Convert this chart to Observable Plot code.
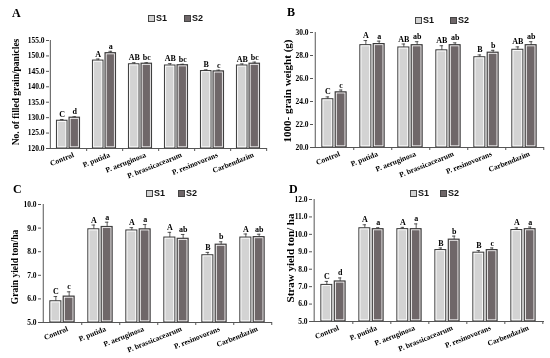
<!DOCTYPE html>
<html><head><meta charset="utf-8">
<script src="https://cdn.jsdelivr.net/npm/d3@7"></script>
<script src="https://cdn.jsdelivr.net/npm/@observablehq/plot@0.6"></script>
<style>
body{margin:0;background:#fff;}
#root{position:relative;width:550px;height:358px;overflow:hidden;background:#fff;}
.panel{position:absolute;overflow:visible;will-change:transform;}
.panel svg{overflow:visible;}
.plet{position:absolute;font:bold 12px "Liberation Serif",serif;color:#000;}
.ylab{position:absolute;font-family:"Liberation Serif",serif;font-weight:bold;white-space:nowrap;transform:translate(-50%,-50%) rotate(-90deg);color:#000;}
.leg{position:absolute;font:bold 9px "Liberation Sans",sans-serif;display:flex;align-items:center;white-space:nowrap;color:#111;}
.sw{display:inline-block;width:5px;height:5px;border:1px solid #444;margin-right:1px;}
</style></head><body><div id="root"></div>
<script>
const categories = ["Control","P. putida","P. aeruginosa","P. brassicacearum","P. resinovorans","Carbendazim"];
const seriesNames = ["S1","S2"];
const seriesColors = ["#d3d3d3","#6f6769"];

// Panel A: No. of filled grain/panicles
const aS1 = [129.0,148.5,147.3,146.9,145.1,146.9];
const aS2 = [130.0,150.9,147.5,147.0,145.0,147.5];
const aE1 = [0.4,0.5,0.5,0.6,0.4,0.5];
const aE2 = [0.3,0.6,0.3,0.3,0.4,0.5];
const aL1 = ["C","A","AB","AB","B","AB"];
const aL2 = ["d","a","bc","bc","c","bc"];
const aTicks = [120,125,130,135,140,145,150,155];

// Panel B: 1000- grain weight (g)
const bS1 = [24.2,28.9,28.7,28.45,27.85,28.5];
const bS2 = [24.8,29.0,28.9,28.9,28.25,28.9];
const bE1 = [0.2,0.4,0.3,0.4,0.2,0.25];
const bE2 = [0.2,0.25,0.3,0.2,0.2,0.3];
const bL1 = ["C","A","AB","AB","B","AB"];
const bL2 = ["c","a","ab","ab","b","ab"];
const bTicks = [20,22,24,26,28,30];

// Panel C: Grain yield ton/ha
const cS1 = [5.9,8.95,8.9,8.6,7.85,8.6];
const cS2 = [6.1,9.05,8.95,8.55,8.3,8.62];
const cE1 = [0.2,0.18,0.12,0.22,0.12,0.15];
const cE2 = [0.2,0.2,0.2,0.18,0.12,0.12];
const cL1 = ["C","A","A","A","B","A"];
const cL2 = ["c","a","a","ab","b","ab"];
const cTicks = [5,6,7,8,9,10];

// Panel D: Straw yield ton/ha
const dS1 = [7.1,10.35,10.3,9.1,8.95,10.25];
const dS2 = [7.3,10.3,10.3,9.7,9.1,10.3];
const dE1 = [0.2,0.2,0.1,0.12,0.12,0.12];
const dE2 = [0.2,0.08,0.3,0.2,0.12,0.12];
const dL1 = ["C","A","A","B","B","A"];
const dL2 = ["d","a","a","b","c","a"];
const dTicks = [5,6,7,8,9,10,11,12];

const root = document.getElementById("root");
const W = 275, H = 179;

function panel(cfg) {
  const {left, top, ml, mr, mt, mb, vals, errs, lets, ticks} = cfg;
  const step = (W - ml - mr) / categories.length;
  const bw = step * 0.3, gap = step * 0.045;
  const marks = [];
  const ymin = ticks[0], ymax = ticks[ticks.length - 1];
  seriesNames.forEach((s, k) => {
    const rows = categories.map((c, i) => ({cat: c, v: vals[k][i], e: errs[k][i], l: lets[k][i]}));
    const il = k === 0 ? step/2 - gap/2 - bw : step/2 + gap/2;
    const ir = k === 0 ? step/2 + gap/2 : step/2 - gap/2 - bw;
    const off = (k === 0 ? -1 : 1) * (gap/2 + bw/2);
    marks.push(Plot.barY(rows, {x: "cat", y1: ymin, y2: "v", fill: seriesColors[k], stroke: "#3a3a3a", strokeWidth: 1, insetLeft: il, insetRight: ir}));
    marks.push(Plot.barY(rows, {x: "cat", y1: ymin, y2: "v", fill: "none", stroke: "#fff", strokeWidth: 0.8, insetLeft: il + 1.2, insetRight: ir + 1.2, insetTop: 1.2, insetBottom: 1.2}));
    marks.push(Plot.ruleX(rows, {x: "cat", y1: "v", y2: d => d.v + d.e, dx: off, stroke: "#333", strokeWidth: 0.8}));
    marks.push(Plot.tickY(rows, {x: "cat", y: d => d.v + d.e, dx: off, insetLeft: step/2 - 2, insetRight: step/2 - 2, stroke: "#333", strokeWidth: 0.8}));
    marks.push(Plot.text(rows, {x: "cat", y: d => d.v + d.e, text: "l", dx: off, dy: -5, fontFamily: "Liberation Serif", fontWeight: "bold", fontSize: 8, fill: "black", stroke: "none"}));
  });
  marks.push(Plot.ruleY([ymin], {stroke: "#555"}));
  marks.push(Plot.ruleX([categories[0]], {dx: -step/2, stroke: "#555"}));
  marks.push(Plot.axisY({ticks, tickFormat: d3.format(".1f"), tickSize: 3, tickPadding: 2, label: null, fontFamily: "Liberation Serif", fontWeight: "bold", fontSize: 7.5, stroke: "#555", color: "black"}));
  marks.push(Plot.axisX({tickSize: 3, tickFormat: () => "", dx: step/2, label: null, stroke: "#555"}));
  marks.push(Plot.axisX({tickSize: 0, tickPadding: 6, tickRotate: -22, textAnchor: "end", dx: 5, label: null, fontFamily: "Liberation Serif", fontWeight: "bold", fontSize: 7.5, fill: "black"}));
  const chart = Plot.plot({
    width: W, height: H,
    marginLeft: ml, marginRight: mr, marginTop: mt, marginBottom: mb,
    style: {background: "transparent", overflow: "visible", color: "black"},
    x: {domain: categories, padding: 0, axis: null},
    y: {domain: [ymin, ymax], axis: null},
    marks
  });
  const div = document.createElement("div");
  div.className = "panel";
  div.style.left = left + "px"; div.style.top = top + "px";
  div.appendChild(chart);
  root.appendChild(div);

  const pl = document.createElement("div");
  pl.className = "plet"; pl.textContent = cfg.letter;
  pl.style.left = cfg.letterPos[0] + "px"; pl.style.top = cfg.letterPos[1] + "px";
  root.appendChild(pl);

  const yl = document.createElement("div");
  yl.className = "ylab"; yl.textContent = cfg.ylabel;
  yl.style.left = cfg.ylabPos[0] + "px"; yl.style.top = cfg.ylabPos[1] + "px";
  yl.style.fontSize = cfg.ylabSize + "px";
  root.appendChild(yl);

  seriesNames.forEach((s, k) => {
    const lg = document.createElement("div");
    lg.className = "leg";
    lg.style.left = cfg.legPos[k][0] + "px"; lg.style.top = cfg.legPos[k][1] + "px";
    const sw = document.createElement("span");
    sw.className = "sw"; sw.style.background = seriesColors[k];
    lg.appendChild(sw);
    lg.appendChild(document.createTextNode(s));
    root.appendChild(lg);
  });
}

panel({left: 0, top: 0, ml: 49, mr: 8, mt: 40, mb: 31, vals: [aS1, aS2], errs: [aE1, aE2], lets: [aL1, aL2], ticks: aTicks,
  letter: "A", letterPos: [12, 6], ylabel: "No. of filled grain/panicles", ylabPos: [16, 92], ylabSize: 9.5,
  legPos: [[148, 13], [184, 13]]});
panel({left: 275, top: 0, ml: 38, mr: 6, mt: 32, mb: 32, vals: [bS1, bS2], errs: [bE1, bE2], lets: [bL1, bL2], ticks: bTicks,
  letter: "B", letterPos: [287, 5], ylabel: "1000- grain weight (g)", ylabPos: [287, 91], ylabSize: 11,
  legPos: [[415, 15], [450, 15]]});
panel({left: 0, top: 179, ml: 41, mr: 3, mt: 25, mb: 36, vals: [cS1, cS2], errs: [cE1, cE2], lets: [cL1, cL2], ticks: cTicks,
  letter: "C", letterPos: [13, 182], ylabel: "Grain yield ton/ha", ylabPos: [15, 267], ylabSize: 9.5,
  legPos: [[146, 188], [178, 188]]});
panel({left: 275, top: 179, ml: 37, mr: 6, mt: 20, mb: 37, vals: [dS1, dS2], errs: [dE1, dE2], lets: [dL1, dL2], ticks: dTicks,
  letter: "D", letterPos: [289, 182], ylabel: "Straw yield  ton/ ha", ylabPos: [290, 258], ylabSize: 11,
  legPos: [[410, 188], [440, 188]]});
</script></body></html>
